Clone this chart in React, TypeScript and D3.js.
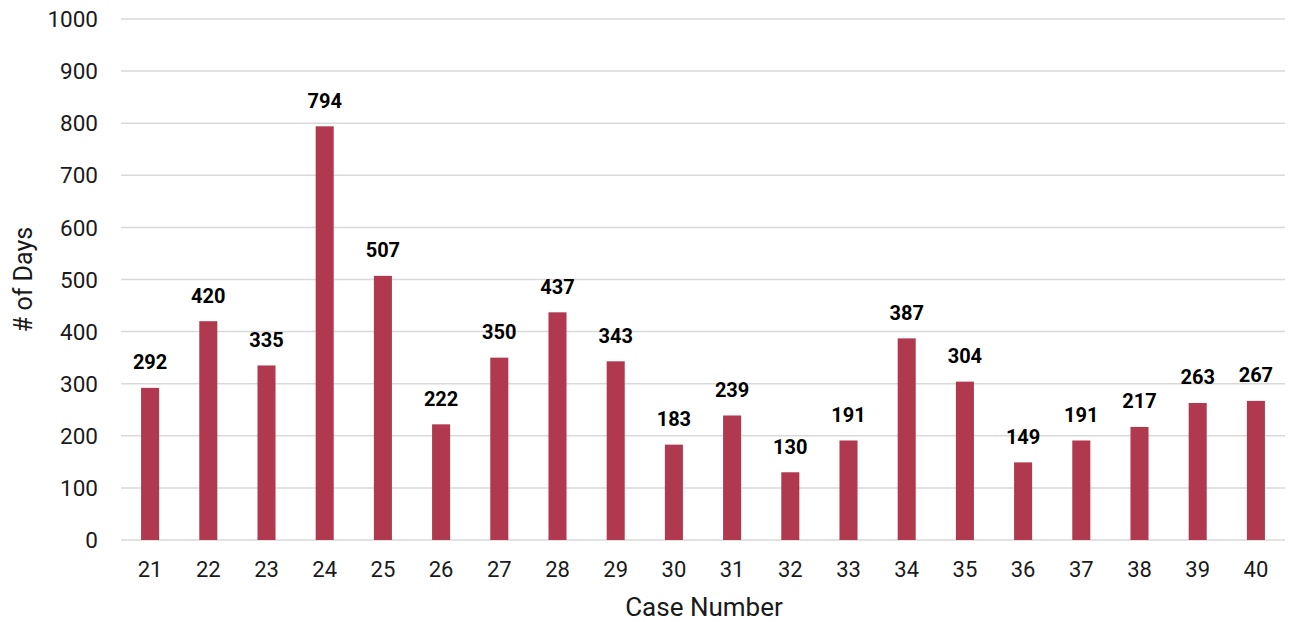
import React from "react";
import * as d3 from "d3";

const caseNumbers = ["21","22","23","24","25","26","27","28","29","30","31","32","33","34","35","36","37","38","39","40"];
const days = [292,420,335,794,507,222,350,437,343,183,239,130,191,387,304,149,191,217,263,267];
const yTicks = [0,100,200,300,400,500,600,700,800,900,1000];

const W = 1289;
const H = 622;
const margin = { left: 121, right: 4, top: 19, bottom: 82 };
const barColor = "#B0394F";
const font = "Roboto, 'Noto Sans', sans-serif";

export default function App() {
  const x = d3.scaleBand<string>()
    .domain(caseNumbers)
    .range([margin.left, W - margin.right])
    .paddingInner(0.69)
    .paddingOuter(0.345);
  const y = d3.scaleLinear().domain([0, 1000]).range([H - margin.bottom, margin.top]);

  return (
    <svg width={W} height={H} style={{ position: "absolute", left: 0, top: 0 }} fontFamily={font}>
      <rect width={W} height={H} fill="#fff" />
      {yTicks.map((t) => (
        <g key={t}>
          <line x1={margin.left} x2={W - margin.right} y1={y(t)} y2={y(t)} stroke="#d9d9d9" strokeWidth={1.5} />
          <text x={98} y={y(t)} dy="0.36em" textAnchor="end" fontSize={22.5} fill="#1a1a1a">{t}</text>
        </g>
      ))}
      {caseNumbers.map((c, i) => {
        const bx = x(c)!;
        const bw = x.bandwidth();
        return (
          <g key={c}>
            <rect x={bx} y={y(days[i])} width={bw} height={y(0) - y(days[i])} fill={barColor} />
            <text x={bx + bw / 2} y={y(days[i]) - 18.5} textAnchor="middle" fontSize={20} fontWeight="bold" fill="#000">{days[i]}</text>
            <text x={bx + bw / 2} y={577} textAnchor="middle" fontSize={22} fill="#1a1a1a">{c}</text>
          </g>
        );
      })}
      <text x={704} y={616} textAnchor="middle" fontSize={26} fill="#1a1a1a">Case Number</text>
      <text transform={`translate(32, ${(margin.top + H - margin.bottom) / 2}) rotate(-90)`} textAnchor="middle" fontSize={25} fill="#1a1a1a">
        # of Days
      </text>
    </svg>
  );
}
